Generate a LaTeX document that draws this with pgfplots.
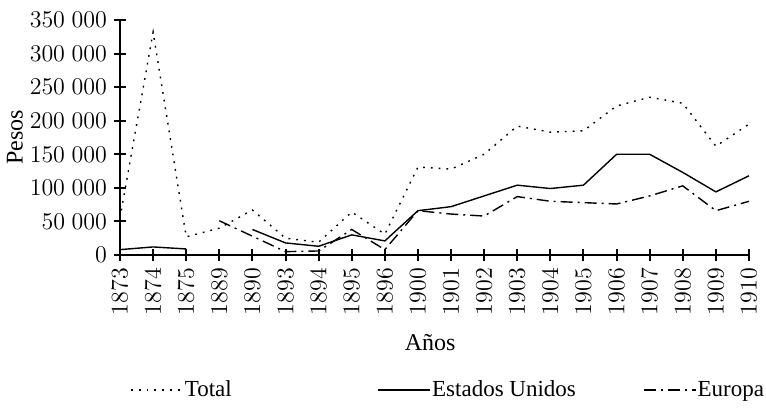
\documentclass[border=0pt]{standalone}
\usepackage{pgfplots}
\pgfplotsset{compat=1.18}
\usepackage{pgfplotstable}
\usepackage{fontspec}
\setmainfont{Liberation Serif}

\pgfplotstableread{
x y
0 55000
1 332000
2 27000
3 40000
4 67000
5 25000
6 19000
7 64000
8 31000
9 131000
10 128000
11 150000
12 192000
13 183000
14 185000
15 222000
16 235000
17 226000
18 162000
19 195000
}\total

\pgfplotstableread{
x y
0 8000
1 12000
2 9000
3 nan
4 38000
5 18000
6 13000
7 30000
8 21000
9 66000
10 72000
11 88000
12 104000
13 99000
14 104000
15 150000
16 150000
17 123000
18 94000
19 118000
}\eeuu

\pgfplotstableread{
x y
3 51000
4 28000
5 5000
6 6000
7 38000
8 8000
9 66000
10 61000
11 58000
12 87000
13 80000
14 78000
15 76000
16 88000
17 103000
18 66000
19 80000
}\europa

\begin{document}
\begin{tikzpicture}
\begin{axis}[
  scale only axis,
  width=314.5pt, height=117.5pt,
  axis lines=left,
  axis line style={line width=1pt, -},
  every tick/.style={line width=1pt, black},
  major tick length=6pt,
  tick align=center,
  xmin=0, xmax=19,
  ymin=0, ymax=350000,
  scaled y ticks=false,
  xtick={0,...,19},
  xticklabels={$1873$,$1874$,$1875$,$1889$,$1890$,$1893$,$1894$,$1895$,$1896$,$1900$,$1901$,$1902$,$1903$,$1904$,$1905$,$1906$,$1907$,$1908$,$1909$,$1910$},
  ytick={0,50000,100000,150000,200000,250000,300000,350000},
  yticklabels={$0$,$50\;000$,$100\;000$,$150\;000$,$200\;000$,$250\;000$,$300\;000$,$350\;000$},
  xticklabel style={rotate=90, anchor=east, font=\fontsize{12}{14}\selectfont},
  yticklabel style={font=\fontsize{12}{14}\selectfont},
  unbounded coords=jump,
  xlabel={Años},
  ylabel={Pesos},
  label style={font=\fontsize{12}{14}\selectfont},
  xlabel style={at={(axis description cs:0.493,-0.374)}, anchor=center},
  ylabel style={at={(axis description cs:-0.167,0.5)}, anchor=center, rotate=0},
  legend columns=3,
  legend style={at={(axis description cs:0,0)}, anchor=west, xshift=5pt, yshift=-67.5pt,
    draw=none, inner sep=0pt, font=\fontsize{11.5}{13}\selectfont,
    nodes={inner sep=0.5pt},
    /tikz/every even column/.append style={column sep=0pt}},
  legend image code/.code={\draw[#1] (0pt,0pt) -- (26pt,0pt);},
  clip=false,
]
\addplot[black, line width=0.7pt, dash pattern=on 0.9pt off 3pt] table[x=x,y=y] {\total};
\addlegendentry{\makebox[96pt][l]{Total}}
\addplot[black, line width=0.7pt] table[x=x,y=y] {\eeuu};
\addlegendentry{\makebox[105pt][l]{Estados Unidos}}
\addplot[black, line width=0.7pt, dash pattern=on 6pt off 2.5pt on 1pt off 2.5pt] table[x=x,y=y] {\europa};
\addlegendentry{Europa}
\coordinate (O) at (rel axis cs:0,0);
\coordinate (TR) at (rel axis cs:1,1);
\end{axis}
\path ([xshift=-60pt,yshift=-79pt]O) rectangle ([xshift=8.5pt,yshift=10pt]TR);
\end{tikzpicture}
\end{document}
